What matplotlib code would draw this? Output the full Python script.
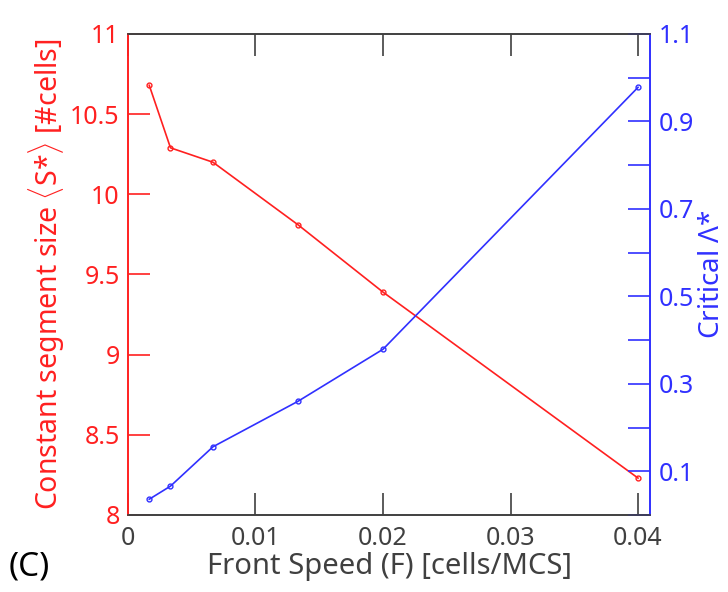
import matplotlib
matplotlib.use("Agg")
import matplotlib.pyplot as plt
from matplotlib.ticker import MultipleLocator, FuncFormatter

# front speed values (cells/MCS)
speed = [1/600, 1/300, 1/150, 1/75, 1/50, 1/25]
# constant segment size <S*>
seg_size = [10.68, 10.29, 10.20, 9.81, 9.39, 8.23]
# critical lambda*
crit_lambda = [0.036, 0.066, 0.156, 0.260, 0.379, 0.978]

red = "#ff2020"
blue = "#3030ff"
grey = "#404040"

plt.rcParams['font.family'] = ['Noto Sans', 'DejaVu Sans']
plt.rcParams['mathtext.fontset'] = 'custom'
plt.rcParams['mathtext.rm'] = 'Noto Sans'
plt.rcParams['mathtext.it'] = 'Noto Sans:italic'

fig = plt.figure(figsize=(7.28, 5.92), dpi=100)
ax = fig.add_axes([0.1758, 0.1301, 0.7171, 0.8125])
ax2 = ax.twinx()

ax.plot(speed, seg_size, '-o', color=red, lw=1.2, ms=3.5, mfc='none', mew=1.0, clip_on=False)
ax2.plot(speed, crit_lambda, '-o', color=blue, lw=1.2, ms=3.5, mfc='none', mew=1.0, clip_on=False)

ax.set_xlim(0, 0.04094)
ax.set_ylim(8, 11)
ax2.set_ylim(0, 1.1)

ax.xaxis.set_major_locator(MultipleLocator(0.01))
ax.xaxis.set_major_formatter(FuncFormatter(lambda v, p: "0" if abs(v) < 1e-9 else "%g" % v))
ax.yaxis.set_major_locator(MultipleLocator(0.5))
ax.yaxis.set_major_formatter(FuncFormatter(lambda v, p: "%g" % v))
ax2.yaxis.set_major_locator(MultipleLocator(0.1))
ax2.yaxis.set_major_formatter(FuncFormatter(
    lambda v, p: ("%.1f" % v) if (round(v * 10) % 2 == 1) else ""))

ax.tick_params(axis='x', direction='in', length=16, width=1.2, color=grey,
               labelcolor=grey, labelsize=18, pad=8, top=True)
ax.tick_params(axis='y', direction='in', length=16, width=1.2, color=red,
               labelcolor=red, labelsize=18, pad=6)
ax2.tick_params(axis='y', direction='in', length=16, width=1.2, color=blue,
                labelcolor=blue, labelsize=18, pad=6)

for a in (ax, ax2):
    a.spines['top'].set_color(grey)
    a.spines['bottom'].set_color(grey)
    a.spines['left'].set_color(red)
    a.spines['right'].set_color(blue)
    for s in a.spines.values():
        s.set_linewidth(1.2)

ax.set_xlabel("Front Speed (F) [cells/MCS]", fontsize=21, color=grey, labelpad=1)
ax.set_ylabel("Constant segment size $\\langle$S*$\\rangle$ [#cells]", fontsize=20.5,
              color=red, labelpad=2)
ax2.set_ylabel("Critical $\\mathit{\u039b}$*", fontsize=20, color=blue, labelpad=3)

fig.text(0.012, 0.042, "(C)", fontsize=24, color="black", va='center', ha='left')

fig.savefig("out.png", dpi=100)
